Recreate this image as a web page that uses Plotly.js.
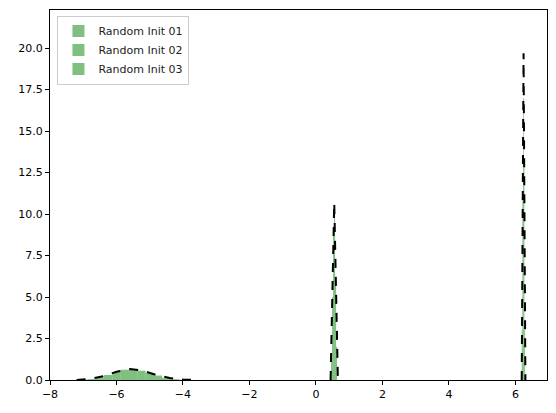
<!DOCTYPE html>
<html>
<head>
<script src="https://cdn.plot.ly/plotly-3.0.1.min.js"></script>
<style>body{margin:0}</style>
</head>
<body>
<div id="myDiv" style="width:556px;height:413px"></div>
<script>
// histogram bins (centers) and densities
var bins01 = [-7.0, -6.75, -6.5, -6.25, -6.0, -5.75, -5.5, -5.25, -5.0, -4.75, -4.5, -4.25, -4.0];
var dens01 = [0.02, 0.06, 0.15, 0.3, 0.48, 0.62, 0.66, 0.56, 0.42, 0.27, 0.13, 0.05, 0.02];
var bins02 = [0.47, 0.50, 0.53, 0.56, 0.59, 0.62];
var dens02 = [1.5, 5.0, 9.0, 10.0, 6.0, 2.0];
var bins03 = [6.20, 6.22, 6.24, 6.26, 6.28];
var dens03 = [3.0, 11.0, 17.0, 13.0, 3.0];

// fitted density curves (dashed)
var curveX1 = [-7.2, -6.8, -6.4, -6.0, -5.6, -5.2, -4.8, -4.4, -4.0, -3.6];
var curveY1 = [0.0, 0.06, 0.22, 0.5, 0.66, 0.56, 0.3, 0.12, 0.03, 0.0];
var curveX2 = [0.44, 0.55, 0.66];
var curveY2 = [0.0, 10.7, 0.0];
var curveX3 = [6.19, 6.245, 6.30];
var curveY3 = [0.0, 19.7, 0.0];

var green = 'rgba(0,128,0,0.5)';
function hist(name, x, y, w) {
  return {x: x, y: y, type: 'bar', name: name, width: w,
          marker: {color: green, line: {width: 0}}};
}
function curve(x, y) {
  return {x: x, y: y, mode: 'lines', showlegend: false, hoverinfo: 'skip',
          line: {color: 'black', dash: 'dash', width: 2}};
}

var data = [
  hist('Random Init 01', bins01, dens01, 0.25),
  hist('Random Init 02', bins02, dens02, 0.03),
  hist('Random Init 03', bins03, dens03, 0.02),
  curve(curveX1, curveY1),
  curve(curveX2, curveY2),
  curve(curveX3, curveY3)
];

var axisStyle = {
  showgrid: false, zeroline: false, showline: true, mirror: true,
  linecolor: 'black', linewidth: 1, ticks: 'outside', ticklen: 4,
  tickcolor: 'black', tickfont: {size: 11, color: 'black'}
};

var layout = {
  width: 556, height: 413,
  margin: {l: 50, r: 9, t: 10, b: 33},
  font: {family: 'DejaVu Sans'},
  barmode: 'overlay',
  plot_bgcolor: 'white', paper_bgcolor: 'white',
  xaxis: Object.assign({range: [-8, 6.95], tickvals: [-8, -6, -4, -2, 0, 2, 4, 6]}, axisStyle),
  yaxis: Object.assign({range: [0, 22.3], tickvals: [0, 2.5, 5, 7.5, 10, 12.5, 15, 17.5, 20],
                        ticktext: ['0.0', '2.5', '5.0', '7.5', '10.0', '12.5', '15.0', '17.5', '20.0']}, axisStyle),
  legend: {x: 0.015, y: 0.985, xanchor: 'left', yanchor: 'top',
           bordercolor: '#cccccc', borderwidth: 1, font: {size: 11, color: '#222'}}
};

Plotly.newPlot('myDiv', data, layout, {displayModeBar: false});
</script>
</body>
</html>
